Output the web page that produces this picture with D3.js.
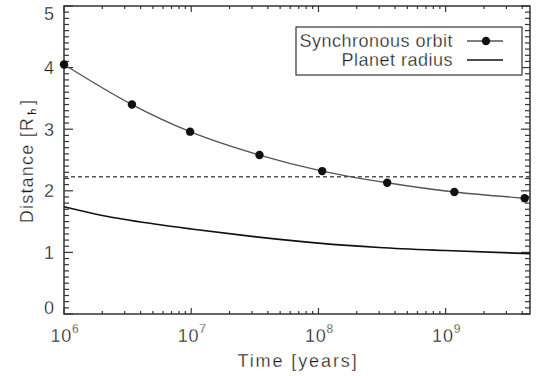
<html>
<head>
<script src="https://d3js.org/d3.v7.min.js"></script>
<style>
body { margin: 0; background: #fff; }
text { font-family: "Liberation Sans", Arial, sans-serif; fill: #1a1a1a; stroke: #fff; stroke-width: 0.3px; }
</style>
</head>
<body>
<div id="chart"></div>
<script>

const black = "#111";
const gray = "#555";

// synchronous orbit markers (years, planet radii)
var syncTimes = [1e6, 3.42e6, 9.8e6, 3.44e7, 1.07e8, 3.47e8, 1.17e9, 4.18e9];
var syncDist = [4.05, 3.40, 2.96, 2.58, 2.32, 2.13, 1.98, 1.88];

// planet radius curve
var radiusTimes = [1e6, 2e6, 5e6, 1e7, 3e7, 1e8, 3e8, 1e9, 4.6e9];
var radiusDist = [1.74, 1.60, 1.465, 1.38, 1.26, 1.15, 1.08, 1.03, 0.98];

// dashed horizontal reference level
var refLevel = 2.23;

var xDomain = [1e6, 4.6e9];
var yDomain = [0, 5];
var yTicks = [0, 1, 2, 3, 4, 5];
var xTicks = [1e6, 1e7, 1e8, 1e9];
var xTickExp = ["6", "7", "8", "9"];
var legendLabels = ["Synchronous orbit", "Planet radius"];

var W = 537, H = 376;
var pLeft = 64, pRight = 530, pTop = 6, pBottom = 314;

var svg = d3.select("#chart").append("svg")
            .attr("width", W)
            .attr("height", H);

var x = d3.scaleLog().domain(xDomain).range([pLeft, pRight]);
var y = d3.scaleLinear().domain(yDomain).range([pBottom, pTop]);

// frame
svg.append("rect")
   .attr("x", pLeft).attr("y", pTop)
   .attr("width", pRight - pLeft).attr("height", pBottom - pTop)
   .attr("fill", "none").attr("stroke", "#333").attr("stroke-width", 1.5);

// y ticks (inside, both sides)
var yMinor = d3.range(0, 50).map(function(i) { return i / 10; }).filter(function(v) { return v % 1 !== 0; });
function yTickLines(vals, len) {
  vals.forEach(function(v) {
    svg.append("line").attr("x1", pLeft).attr("x2", pLeft + len)
       .attr("y1", y(v)).attr("y2", y(v)).attr("stroke", "#333").attr("stroke-width", 1.2);
    svg.append("line").attr("x1", pRight).attr("x2", pRight - len)
       .attr("y1", y(v)).attr("y2", y(v)).attr("stroke", "#333").attr("stroke-width", 1.2);
  });
}
yTickLines(yMinor, 5);
yTickLines(yTicks, 9);

// x ticks (inside, top and bottom)
var xMinor = x.ticks().filter(function(v) { return xTicks.indexOf(v) < 0; });
function xTickLines(vals, len) {
  vals.forEach(function(v) {
    svg.append("line").attr("x1", x(v)).attr("x2", x(v))
       .attr("y1", pBottom).attr("y2", pBottom - len).attr("stroke", "#333").attr("stroke-width", 1.2);
    svg.append("line").attr("x1", x(v)).attr("x2", x(v))
       .attr("y1", pTop).attr("y2", pTop + len).attr("stroke", "#333").attr("stroke-width", 1.2);
  });
}
xTickLines(xMinor, 3);
xTickLines(xTicks, 6);

// tick labels (end labels pulled inside like the original)
svg.selectAll(".ylab").data(yTicks).enter().append("text")
   .attr("x", 54)
   .attr("y", function(d) { return d === 0 ? y(d) : (d === 5 ? y(d) + 14 : y(d) + 6.5); })
   .attr("text-anchor", "end").attr("font-size", "18px")
   .text(function(d) { return d; });

var xl = svg.selectAll(".xlab").data(xTicks).enter().append("text")
   .attr("x", function(d) { return x(d) + 1; }).attr("y", 342)
   .attr("text-anchor", "middle").attr("font-size", "18px").attr("letter-spacing", "0.8px");
xl.append("tspan").text("10");
xl.append("tspan").attr("font-size", "12px").attr("dy", -9)
   .text(function(d, i) { return xTickExp[i]; });

// axis titles
svg.append("text").attr("x", 298).attr("y", 367)
   .attr("text-anchor", "middle").attr("font-size", "18px").attr("letter-spacing", "1.9px")
   .text("Time [years]");

var yt = svg.append("text").attr("transform", "translate(33,161) rotate(-90)")
   .attr("text-anchor", "middle").attr("font-size", "18px").attr("letter-spacing", "1.2px");
yt.append("tspan").text("Distance [R");
yt.append("tspan").attr("font-size", "12px").attr("dy", 3).attr("stroke", "none")
  .attr("font-family", "DejaVu Sans").text("\u2644");
yt.append("tspan").attr("dy", -3).text("]");

// dashed level
svg.append("line")
   .attr("x1", pLeft).attr("x2", pRight)
   .attr("y1", y(refLevel)).attr("y2", y(refLevel))
   .attr("stroke", gray).attr("stroke-width", 1.5)
   .attr("stroke-dasharray", "4,3");

// curves
var syncData = syncTimes.map(function(t, i) { return [t, syncDist[i]]; });
var radData = radiusTimes.map(function(t, i) { return [t, radiusDist[i]]; });
var line = d3.line()
             .x(function(d) { return x(d[0]); })
             .y(function(d) { return y(d[1]); })
             .curve(d3.curveMonotoneX);

svg.append("path").datum(radData).attr("d", line)
   .attr("fill", "none").attr("stroke", black).attr("stroke-width", 1.6);

svg.append("path").datum(syncData).attr("d", line)
   .attr("fill", "none").attr("stroke", gray).attr("stroke-width", 1.4);

svg.selectAll(".dot").data(syncData).enter().append("circle")
   .attr("cx", function(d) { return x(d[0]); })
   .attr("cy", function(d) { return y(d[1]); })
   .attr("r", 4.2).attr("fill", black);

// legend
svg.append("rect").attr("x", 296).attr("y", 27).attr("width", 226).attr("height", 48)
   .attr("fill", "#fff").attr("stroke", "#333").attr("stroke-width", 1.2);
svg.selectAll(".leg").data(legendLabels).enter().append("text")
   .attr("x", 453).attr("y", function(d, i) { return 47 + i * 19; })
   .attr("text-anchor", "end").attr("font-size", "18px").attr("letter-spacing", "0.5px")
   .text(function(d) { return d; });
svg.append("line").attr("x1", 467).attr("x2", 503).attr("y1", 41).attr("y2", 41)
   .attr("stroke", gray).attr("stroke-width", 1.4);
svg.append("circle").attr("cx", 486).attr("cy", 41).attr("r", 4.2).attr("fill", black);
svg.append("line").attr("x1", 467).attr("x2", 503).attr("y1", 60).attr("y2", 60)
   .attr("stroke", black).attr("stroke-width", 1.6);

</script>
</body>
</html>
